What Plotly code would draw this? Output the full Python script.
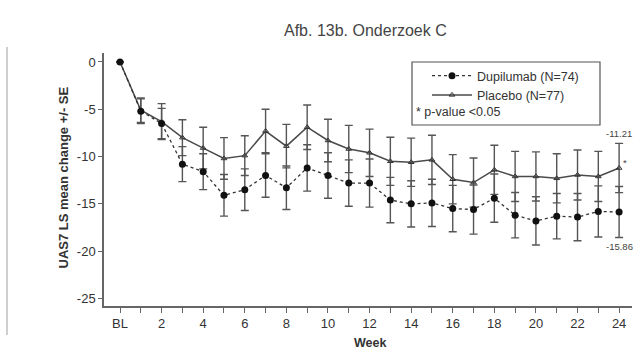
import plotly.graph_objects as go

weeks = list(range(0, 25))
tick_vals = [0, 2, 4, 6, 8, 10, 12, 14, 16, 18, 20, 22, 24]
tick_text = ["BL", "2", "4", "6", "8", "10", "12", "14", "16", "18", "20", "22", "24"]

dupi_mean = [0, -5.2, -6.5, -10.8, -11.6, -14.1, -13.5, -12.0, -13.3, -11.2, -12.0, -12.8, -12.8,
             -14.6, -15.0, -14.9, -15.5, -15.6, -14.4, -16.2, -16.8, -16.3, -16.4, -15.8, -15.86]
dupi_se = [0, 1.3, 1.6, 1.85, 1.9, 2.2, 2.2, 2.3, 2.3, 2.45, 2.4, 2.45, 2.55,
           2.4, 2.45, 2.5, 2.45, 2.6, 2.55, 2.4, 2.55, 2.4, 2.5, 2.7, 2.7]
plac_mean = [0, -5.1, -6.3, -8.0, -9.1, -10.2, -9.9, -7.3, -8.9, -6.9, -8.3, -9.2, -9.6,
             -10.5, -10.6, -10.35, -12.4, -12.75, -11.4, -12.1, -12.1, -12.3, -11.95, -12.1, -11.21]
plac_se = [0, 1.3, 1.9, 1.9, 2.2, 2.2, 2.1, 2.3, 2.3, 2.35, 2.25, 2.5, 2.5,
           2.55, 2.55, 2.6, 2.6, 2.6, 2.6, 2.65, 2.6, 2.6, 2.65, 2.65, 2.6]

FONT = "Liberation Sans, Arial, sans-serif"

fig = go.Figure()
fig.add_trace(go.Scatter(
    x=weeks, y=plac_mean, name="Placebo (N=77)", mode="lines+markers",
    line=dict(color="#4a4a4a", width=1.5),
    marker=dict(symbol="triangle-up-open", size=5, color="#333"),
    error_y=dict(type="data", array=plac_se, color="#555", thickness=1.4, width=4),
))
fig.add_trace(go.Scatter(
    x=weeks, y=dupi_mean, name="Dupilumab (N=74)", mode="lines+markers",
    line=dict(color="#333", width=1.3, dash="3px,3px"),
    marker=dict(symbol="circle", size=7, color="#111"),
    error_y=dict(type="data", array=dupi_se, color="#555", thickness=1.4, width=4),
))

annotations = [
    dict(text="Afb. 13b. Onderzoek C", xref="paper", yref="paper", x=(365 - 104) / 528,
         y=(306 - 30) / 253, showarrow=False, font=dict(family=FONT, size=16, color="#444"),
         yanchor="middle"),
    dict(text="<b>UAS7 LS mean change +/- SE</b>", xref="paper", yref="paper",
         x=(53 - 104) / 528, y=(306 - 178) / 253, textangle=-90, showarrow=False,
         font=dict(family=FONT, size=13, color="#333")),
    dict(text="<b>Week</b>", xref="paper", yref="paper", x=(370 - 104) / 528,
         y=(306 - 343) / 253, yanchor="middle", showarrow=False,
         font=dict(family=FONT, size=12.5, color="#333")),
    dict(text=f"{plac_mean[-1]:.2f}", x=weeks[-1], y=plac_mean[-1] + plac_se[-1] + 1.1,
         xanchor="center", showarrow=False, font=dict(family=FONT, size=9.5, color="#444")),
    dict(text=f"{dupi_mean[-1]:.2f}", x=weeks[-1], y=dupi_mean[-1] - dupi_se[-1] - 1.0,
         xanchor="center", showarrow=False, font=dict(family=FONT, size=9.5, color="#444")),
    dict(text="*", x=weeks[-1] + 0.3, y=plac_mean[-1] + 0.6, showarrow=False,
         font=dict(family=FONT, size=9.5, color="#444")),
    dict(text="* p-value <0.05", xref="paper", yref="paper", x=(414 - 104) / 528,
         y=(306 - 112) / 253, xanchor="left", yanchor="middle", showarrow=False,
         font=dict(family=FONT, size=12.5, color="#333")),
]

shapes = [
    dict(type="rect", xref="paper", yref="paper",
         x0=(412 - 104) / 528, x1=(600 - 104) / 528,
         y0=(306 - 125) / 253, y1=(306 - 62) / 253,
         line=dict(color="#555", width=1.2), fillcolor="rgba(0,0,0,0)"),
    dict(type="line", xref="paper", yref="paper",
         x0=(7 - 104) / 528, x1=(7 - 104) / 528,
         y0=(306 - 335) / 253, y1=(306 - 47) / 253,
         line=dict(color="#cfcfcf", width=2)),
]

fig.update_layout(
    width=636, height=353,
    margin=dict(l=104, r=4, t=53, b=47),
    paper_bgcolor="white", plot_bgcolor="white",
    font=dict(family=FONT, size=12, color="#333"),
    showlegend=True,
    legend=dict(x=(427 - 104) / 528, y=(306 - 61) / 253, xanchor="left", yanchor="top",
                bgcolor="rgba(0,0,0,0)", borderwidth=0, traceorder="reversed",
                font=dict(family=FONT, size=12.5, color="#333"), itemwidth=40,
                tracegroupgap=0),
    annotations=annotations,
    shapes=shapes,
)
fig.update_xaxes(
    range=[-0.77, 24.62], tickmode="array", tickvals=tick_vals, ticktext=tick_text,
    showgrid=False, zeroline=False, showline=True, linecolor="#666", linewidth=1.5,
    ticks="outside", ticklen=5, tickcolor="#666", tickwidth=1.2,
    tickfont=dict(family=FONT, size=13, color="#333"),
    minor=dict(tickmode="linear", tick0=0, dtick=1, ticks="outside", ticklen=5,
               tickcolor="#666", tickwidth=1.2),
)
fig.update_yaxes(
    range=[-25.8, 0.95], tickmode="array", tickvals=[0, -5, -10, -15, -20, -25],
    ticktext=["0", "-5", "-10", "-15", "-20", "-25"],
    showgrid=False, zeroline=False, showline=True, linecolor="#666", linewidth=1.5,
    ticks="outside", ticklen=4, tickcolor="#666", tickwidth=1.2,
    tickfont=dict(family=FONT, size=13, color="#333"),
)

fig.write_html("out.html")
